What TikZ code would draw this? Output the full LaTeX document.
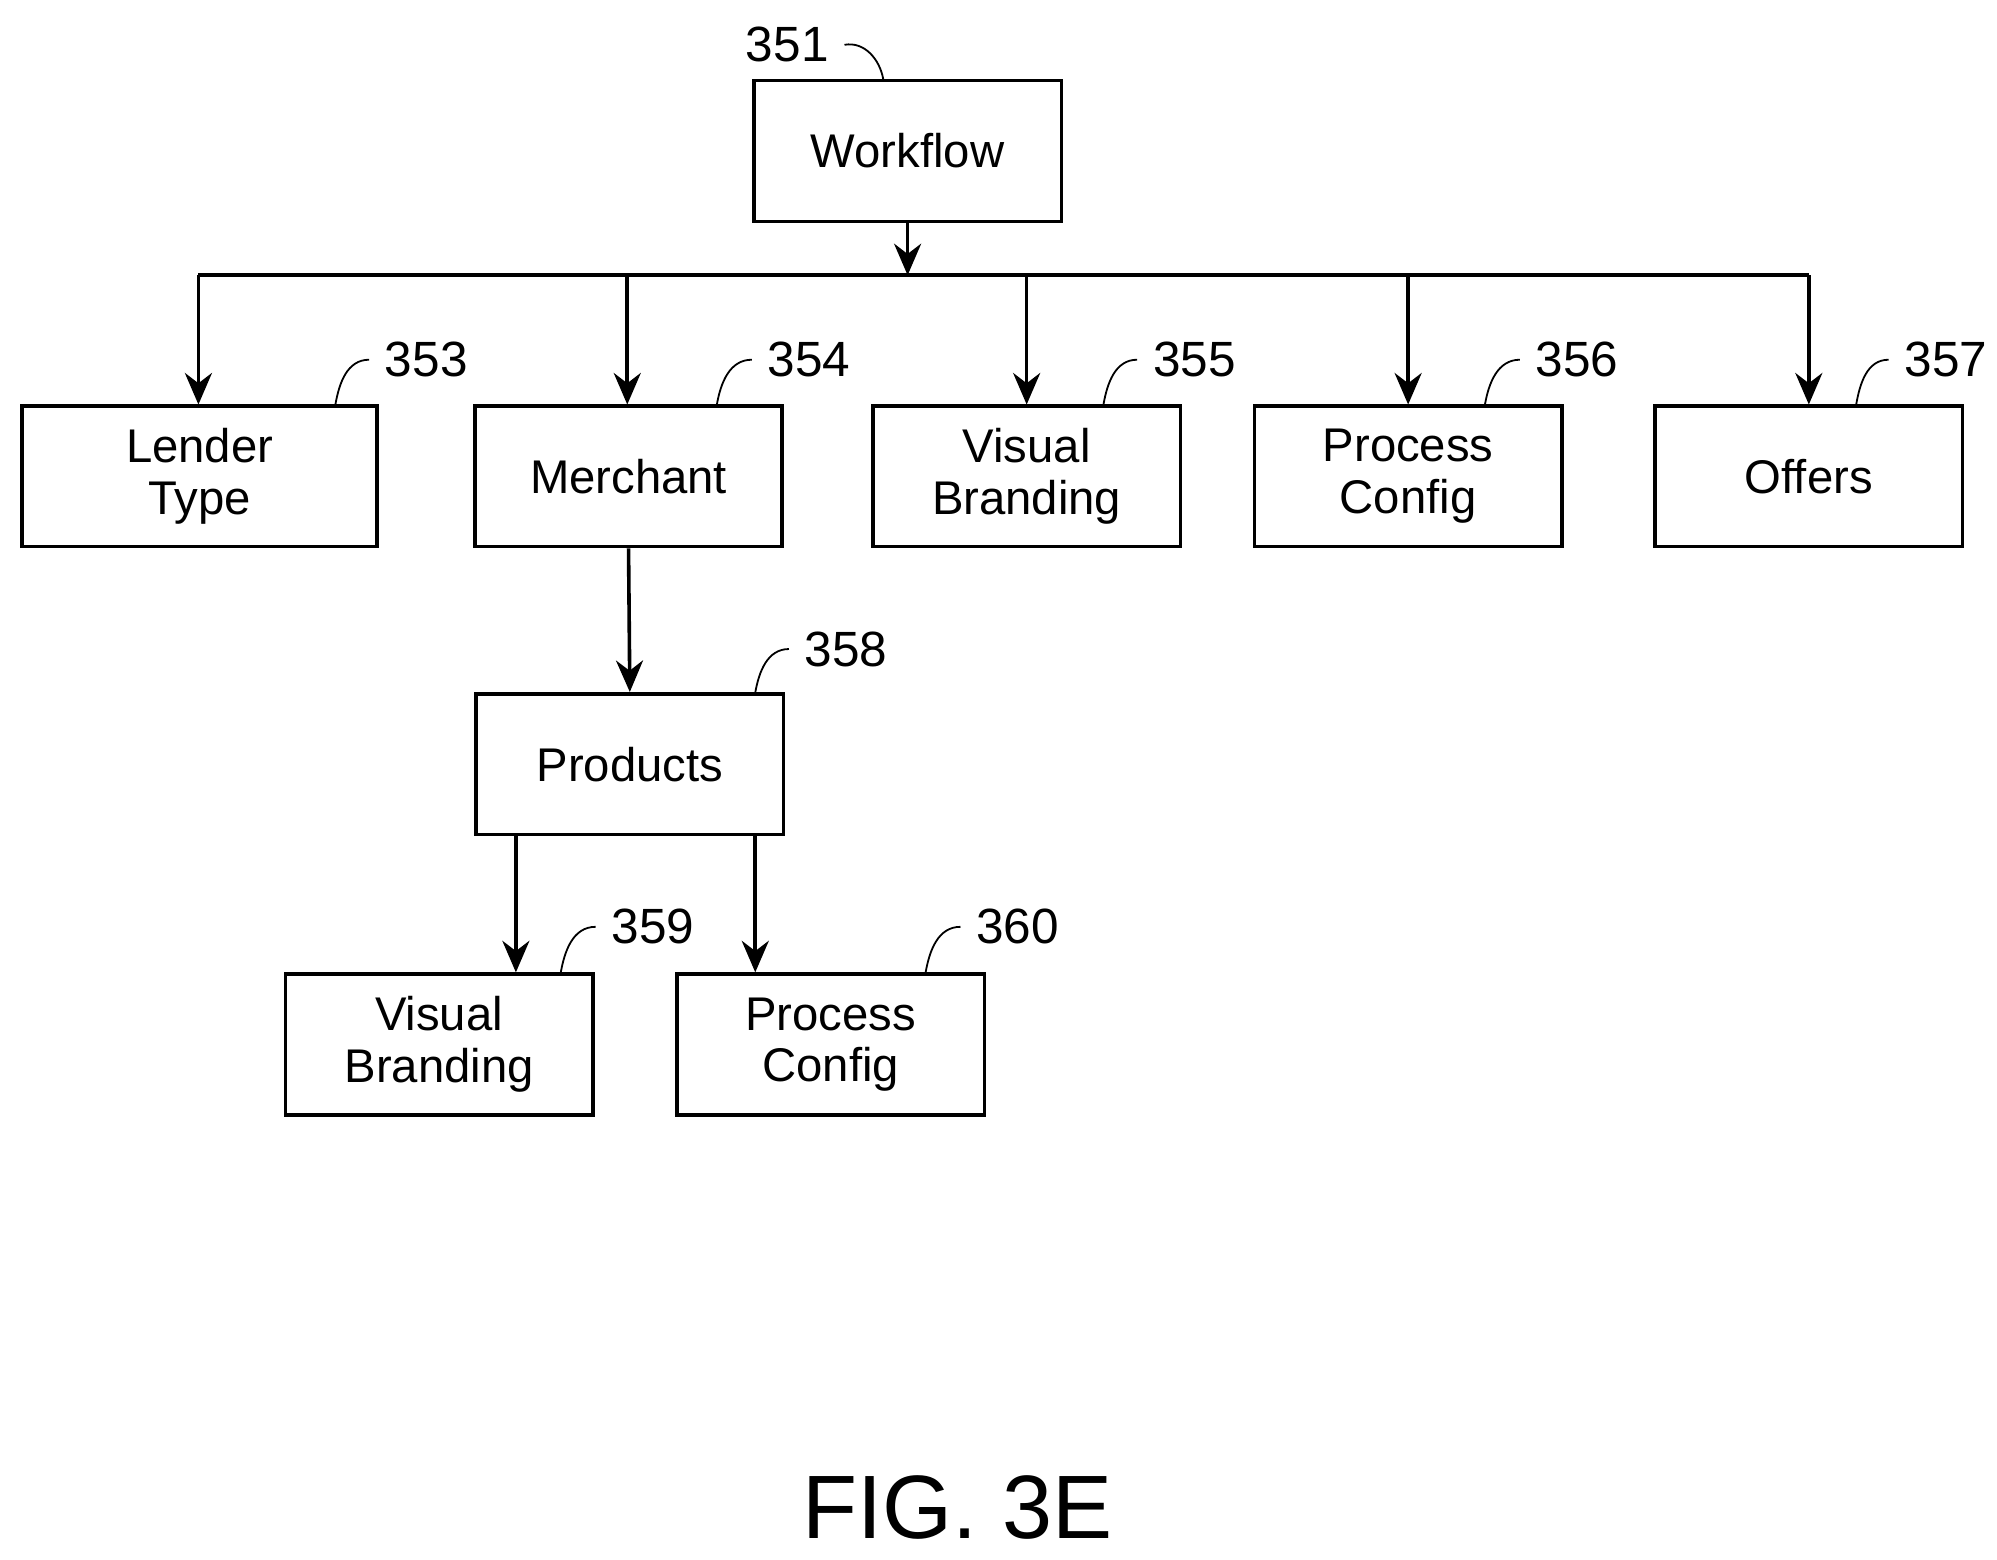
\documentclass[tikz,border=0pt]{standalone}
\usepackage{fontspec}
\setmainfont{Liberation Sans}
\usetikzlibrary{arrows.meta}
\tikzset{
  box/.style={draw, thick, minimum width=2.4cm, minimum height=1.1cm, align=center, font=\fontsize{10.5}{11.5}\selectfont},
  num/.style={font=\fontsize{11}{13}\selectfont},
  lead/.style={thin},
  arr/.style={thick, -{Stealth[length=7pt,width=6pt]}}
}
\begin{document}
\begin{tikzpicture}[x=0.01cm, y=-0.01cm]
  \useasboundingbox (0,0) rectangle (1560,1218);
  % Boxes
  \node[box] (wf) at (709,118) {Workflow};
  \node[box, minimum width=2.77cm] (lt) at (156,372) {Lender\\Type};
  \node[box] (me) at (491,372) {Merchant};
  \node[box] (vb) at (802,372) {Visual\\Branding};
  \node[box] (pc) at (1100,372) {Process\\Config};
  \node[box] (of) at (1413,372) {Offers};
  \node[box] (pr) at (492,597) {Products};
  \node[box] (vb2) at (343,816) {Visual\\Branding};
  \node[box] (pc2) at (649,816) {Process\\Config};

  % Connectors
  \coordinate (bus) at (709,215);
  \draw[arr] (wf.south) -- (bus);
  \draw[thick] (155,215) -- (1413,215);
  \foreach \n/\x in {lt/155, me/490, vb/802, pc/1100, of/1413}
    \draw[arr] (\x,215) -- (\x,316);
  \draw[arr] (me.south) -- (pr.north);
  \draw[arr] (pr.south -| 403,0) -- (vb2.north -| 403,0);
  \draw[arr] (pr.south -| 590,0) -- (pc2.north -| 590,0);

  % Reference numerals
  \node[num] (n351) at (615,35) {351};
  \draw[lead] (n351.east) to[out=10,in=100] (690,62);
  \foreach \t/\x/\y/\bx/\by in {353/333/281/262/316, 354/632/281/560/316, 355/933/281/862/316,
      356/1232/281/1160/316, 357/1520/281/1450/316, 358/661/507/590/541,
      359/510/724/438/760, 360/795/724/723/760}{
    \node[num] (n\t) at (\x,\y) {\t};
    \draw[lead] (n\t.west) to[out=180,in=80] (\bx,\by);
  }

  \node[font=\fontsize{20}{24}\selectfont] (fig) at (748,1178) {FIG. 3E};
\end{tikzpicture}
\end{document}
